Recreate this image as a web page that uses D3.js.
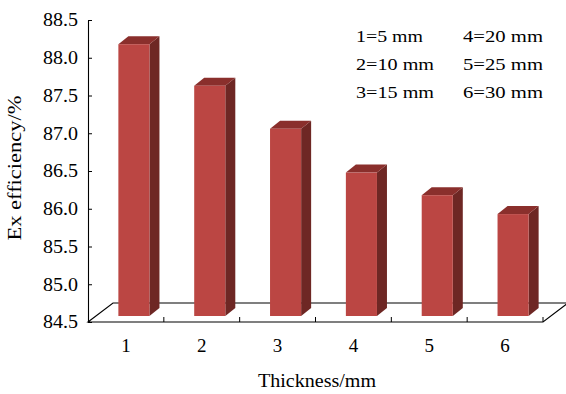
<!DOCTYPE html>
<html>
<head>
<meta charset="utf-8">
<script src="https://cdn.jsdelivr.net/npm/d3@7"></script>
<style>
  body { margin: 0; background: #fff; }
  svg { display: block; font-family: "Liberation Serif", serif; }
</style>
</head>
<body>
<svg id="base" width="566" height="394"></svg>
<script>
let categories = [1, 2, 3, 4, 5, 6]
let efficiency = [88.1, 87.55, 86.98, 86.4, 86.1, 85.85]
let yTicks = [84.5, 85.0, 85.5, 86.0, 86.5, 87.0, 87.5, 88.0, 88.5]
let legendLabels = ["1=5 mm", "2=10 mm", "3=15 mm", "4=20 mm", "5=25 mm", "6=30 mm"]

const serif = '"Liberation Serif", serif'
const svg = d3.select('#base')
const floorDx = 25, floorDy = 19   // depth of the floor
const barDx = 10, barDy = 8        // depth of each bar
const barOff = [8, 6]              // bars sit a bit behind the front edge

let x = d3.scaleBand().domain(categories).range([88, 543])
let y = d3.scaleLinear().domain([84.5, 88.5]).range([322, 20])
let barW = x.bandwidth() * 0.41

// floor
let fx0 = x.range()[0], fx1 = x.range()[1], fy = y(84.5)
svg.append('path')
    .attr('d', `M${fx0},${fy}L${fx0 + floorDx},${fy - floorDy}L${fx1 + floorDx},${fy - floorDy}L${fx1},${fy}Z`)
    .attr('fill', '#fff')
    .attr('stroke', '#000')
    .attr('stroke-width', 1.1)

// x ticks (pointing up) at band edges
categories.forEach(c => {
    let tx = x(c) + x.bandwidth()
    svg.append('line')
        .attr('x1', tx).attr('x2', tx)
        .attr('y1', fy).attr('y2', fy - 5)
        .attr('stroke', '#000').attr('stroke-width', 1)
})

// bars
let bars = svg.append('g')
categories.forEach((c, i) => {
    let x0 = x(c) + x.bandwidth() / 2 + barOff[0] - barW / 2
    let x1 = x0 + barW
    let yb = y(84.5) - barOff[1]
    let yt = y(efficiency[i]) - barOff[1]
    // side
    bars.append('path')
        .attr('d', `M${x1},${yt}L${x1 + barDx},${yt - barDy}L${x1 + barDx},${yb - barDy}L${x1},${yb}Z`)
        .attr('fill', '#6e2724')
    // top
    bars.append('path')
        .attr('d', `M${x0},${yt}L${x0 + barDx},${yt - barDy}L${x1 + barDx},${yt - barDy}L${x1},${yt}Z`)
        .attr('fill', '#8a2f2c')
    // front
    bars.append('rect')
        .attr('x', x0).attr('y', yt)
        .attr('width', barW).attr('height', yb - yt)
        .attr('fill', '#bb4643')
})

// y axis
let yAxis = d3.axisLeft(y).tickValues(yTicks).tickFormat(d3.format('.1f'))
    .tickSizeInner(-4).tickSizeOuter(0).tickPadding(10)
let yg = svg.append('g').attr('transform', `translate(${fx0},0)`).call(yAxis)
yg.attr('font-family', serif)
yg.select('.domain').attr('stroke', '#000').attr('stroke-width', 1.1)
yg.selectAll('.tick line').attr('stroke', '#000')
yg.selectAll('text')
    .attr('font-family', serif)
    .attr('font-size', 18)
    .attr('fill', '#000')
    .attr('textLength', 35)
    .attr('lengthAdjust', 'spacingAndGlyphs')

// x labels
categories.forEach(c => {
    svg.append('text')
        .attr('x', x(c) + x.bandwidth() / 2)
        .attr('y', 352)
        .attr('text-anchor', 'middle')
        .attr('font-family', serif)
        .attr('font-size', 19)
        .text(c)
})

// axis titles
svg.append('text')
    .attr('x', 317).attr('y', 387)
    .attr('text-anchor', 'middle')
    .attr('font-family', serif)
    .attr('font-size', 18)
    .attr('textLength', 118)
    .attr('lengthAdjust', 'spacingAndGlyphs')
    .text('Thickness/mm')

svg.append('text')
    .attr('transform', 'translate(21,168) rotate(-90)')
    .attr('text-anchor', 'middle')
    .attr('font-family', serif)
    .attr('font-size', 18)
    .attr('textLength', 145)
    .attr('lengthAdjust', 'spacingAndGlyphs')
    .text('Ex efficiency/%')

// legend, two columns of three
let legW = [67, 78, 78, 80, 80, 80]
legendLabels.forEach((t, i) => {
    let col = Math.floor(i / 3), row = i % 3
    svg.append('text')
        .attr('x', col == 0 ? 356 : 463)
        .attr('y', 42 + row * 28)
        .attr('font-family', serif)
        .attr('font-size', 16)
        .attr('textLength', legW[i])
        .attr('lengthAdjust', 'spacingAndGlyphs')
        .text(t)
})
</script>
</body>
</html>
